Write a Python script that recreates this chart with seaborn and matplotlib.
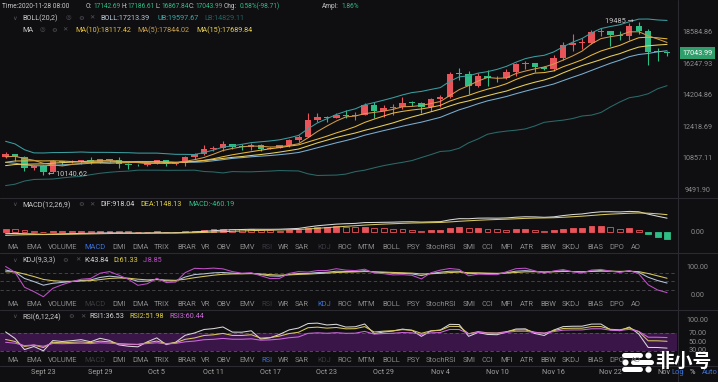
import numpy as np
import pandas as pd
import matplotlib
matplotlib.use("Agg")
import matplotlib.pyplot as plt
import matplotlib.transforms as mtransforms
import seaborn as sns

# daily candles, 2020-09-19 .. 2020-11-28 (last one still open at 08:00)
opens = [10938, 11080, 10920, 10418, 10530, 10241, 10736, 10686, 10729, 10775,
         10700, 10840, 10776, 10620, 10570, 10550, 10670, 10790, 10600, 10668,
         10925, 11050, 11297, 11376, 11545, 11428, 11426, 11503, 11320, 11365,
         11495, 11750, 11910, 12810, 12990, 12930, 13110, 13030, 13070, 13650,
         13280, 13455, 13560, 13800, 13760, 13550, 14030, 14150, 15590, 15580,
         14830, 15480, 15330, 15310, 15700, 16280, 16320, 16070, 15960, 16720,
         17660, 17800, 17820, 18680, 18720, 18420, 18370, 19160, 18720, 17150,
         17142.69]
highs = [11179, 11090, 10990, 10575, 10545, 10795, 10760, 10780, 10800, 10950,
         10860, 10850, 10950, 10670, 10600, 10700, 10800, 10800, 10680, 10960,
         11100, 11490, 11440, 11725, 11560, 11550, 11620, 11540, 11420, 11500,
         11820, 12030, 13220, 13200, 13030, 13170, 13350, 13250, 13790, 13860,
         13650, 13690, 14100, 13900, 13820, 14070, 14250, 15750, 15970, 15770,
         15660, 15840, 15480, 15950, 16340, 16480, 16330, 16140, 16880, 17860,
         18480, 18150, 18800, 18970, 18750, 18770, 19420, 19485, 18915, 17450,
         17186.61]
lows = [10890, 10760, 10296, 10353, 10140.62, 10200, 10560, 10640, 10600, 10630,
        10650, 10680, 10430, 10370, 10500, 10520, 10630, 10520, 10560, 10530,
        10830, 11030, 11220, 11200, 11300, 11280, 11250, 11220, 11300, 11350,
        11410, 11680, 11890, 12680, 12720, 12900, 12900, 12780, 13060, 12900,
        12990, 13100, 13430, 13620, 13200, 13290, 13530, 14090, 15190, 14340,
        14720, 14800, 15070, 15280, 15440, 15950, 15710, 15870, 15800, 16560,
        17220, 17350, 17760, 18350, 17610, 18000, 18030, 18500, 16190, 16500,
        16867.84]
closes = [11080, 10920, 10418, 10530, 10241, 10736, 10686, 10729, 10775, 10700,
          10840, 10776, 10620, 10570, 10550, 10670, 10790, 10600, 10668, 10925,
          11050, 11297, 11376, 11545, 11428, 11426, 11503, 11320, 11365, 11495,
          11750, 11910, 12810, 12990, 12930, 13110, 13030, 13070, 13650, 13280,
          13455, 13560, 13800, 13760, 13550, 14030, 14150, 15590, 15580, 14830,
          15480, 15330, 15310, 15700, 16280, 16320, 16070, 15960, 16720, 17660,
          17800, 17820, 18680, 18720, 18420, 18370, 19160, 18720, 17150, 17140,
          17043.99]
# closes before the visible window (Aug 1 .. Sept 18), only to warm up the indicators
pre_closes = [11800, 11070, 11230, 11190, 11740, 11770, 11600, 11760, 11680, 11880,
              11410, 11580, 11780, 11770, 11860, 11910, 12300, 11960, 11750, 11870,
              11530, 11680, 11650, 11760, 11330, 11460, 11320, 11530, 11470, 11710,
              11650, 11920, 11390, 10170, 10470, 10170, 10250, 10370, 10130, 10230,
              10345, 10390, 10440, 10330, 10680, 10790, 10950, 10940, 10938]

date_ticks = [4, 10, 16, 22, 28, 34, 40, 46, 52, 58, 64]
date_labels = ["Sept 23", "Sept 29", "Oct 5", "Oct 11", "Oct 17", "Oct 23",
               "Oct 29", "Nov 4", "Nov 10", "Nov 16", "Nov 22"]
price_ticks = [18584.86, 16247.93, 14204.86, 12418.69, 10857.11, 9491.90]

tab_names = ["MA", "EMA", "VOLUME", "MACD", "DMI", "DMA", "TRIX", "BRAR", "VR", "OBV",
             "EMV", "RSI", "WR", "SAR", "KDJ", "ROC", "MTM", "BOLL", "PSY", "StochRSI",
             "SMI", "CCI", "MFI", "ATR", "BBW", "SKDJ", "BIAS", "DPO", "AO"]
tab_x = [7, 26, 48, 84, 112, 132, 154, 177, 201, 217, 239, 261, 278, 295, 317, 337,
         357, 382, 406, 426, 463, 482, 500, 520, 540, 562, 587, 609, 631]

# ---- indicators ----
n0 = len(pre_closes)
c_all = pd.Series(pre_closes + closes, dtype=float)
h_all = pd.Series(pre_closes + highs, dtype=float)
l_all = pd.Series(pre_closes + lows, dtype=float)

def vis(s):
    return s.iloc[n0:].to_numpy()

ma5 = vis(c_all.rolling(5).mean())
ma10 = vis(c_all.rolling(10).mean())
ma15 = vis(c_all.rolling(15).mean())
mid = c_all.rolling(20).mean()
sd = c_all.rolling(20).std(ddof=0)
boll, ub, lb = vis(mid), vis(mid + 2 * sd), vis(mid - 2 * sd)

dif_s = c_all.ewm(span=12, adjust=False).mean() - c_all.ewm(span=26, adjust=False).mean()
dea_s = dif_s.ewm(span=9, adjust=False).mean()
dif, dea = vis(dif_s), vis(dea_s)
hist = 2 * (dif - dea)
hist_prev = vis((2 * (dif_s - dea_s)).shift(1))

llv = l_all.rolling(9, min_periods=1).min()
hhv = h_all.rolling(9, min_periods=1).max()
rsv = ((c_all - llv) / (hhv - llv) * 100).fillna(50)
k_s = rsv.ewm(alpha=1 / 3, adjust=False).mean()
d_s = k_s.ewm(alpha=1 / 3, adjust=False).mean()
kk, dd = vis(k_s), vis(d_s)
jj = 3 * kk - 2 * dd

diff = c_all.diff().fillna(0)
def rsi(n):
    up = diff.clip(lower=0).ewm(alpha=1 / n, adjust=False).mean()
    ab = diff.abs().ewm(alpha=1 / n, adjust=False).mean()
    return vis(up / ab * 100)
rsi1, rsi2, rsi3 = rsi(6), rsi(12), rsi(24)

# ---- style ----
bg = '#0f0f12'
sep = '#2a2a30'
RED = '#e8545a'
GREEN = '#2ebd85'
GRAY = '#8c8c8c'
sns.set_theme(style='dark', rc={'axes.facecolor': bg, 'figure.facecolor': bg})
plt.rcParams['font.family'] = ['Roboto', 'DejaVu Sans', 'Noto Sans CJK SC']

W, H = 718, 382
fig = plt.figure(figsize=(W / 100, H / 100), dpi=100)

def box(x0, y0, x1, y1):
    return [x0 / W, 1 - y1 / H, (x1 - x0) / W, (y1 - y0) / H]

def put(x, y, s, color, size=5.2, **kw):
    fig.text(x / W, 1 - y / H, s, color=color, fontsize=size, va='center', **kw)

idx = np.arange(len(closes))
xlim = (-0.59, 71.05)

def clean(ax):
    ax.set_facecolor(bg)
    for sp in ax.spines.values():
        sp.set_visible(False)
    ax.set_xticks([])
    ax.set_yticks([])
    ax.set_xlim(*xlim)
    ax.set_xlabel('')
    ax.set_ylabel('')

def right_labels(ax, vals, labels):
    tr = mtransforms.blended_transform_factory(fig.transFigure, ax.transData)
    for v, s in zip(vals, labels):
        ax.text(697.5 / W, v, s, transform=tr, ha='center', va='center',
                color=GRAY, fontsize=5.2)

# ---- main price pane ----
ax = fig.add_axes(box(0, 0, 677, 197))
ax.set_yscale('log')
o, h, l, c = map(np.array, (opens, highs, lows, closes))
col = np.where(c >= o, RED, GREEN)
ax.vlines(idx, l, h, colors=col, lw=0.8)
bottom = np.minimum(o, c)
height = np.maximum(np.abs(c - o), bottom * 0.003)
ax.bar(idx, height, bottom=bottom, width=0.68, color=col, linewidth=0)
for vals, cl in [(ub, '#3a9ea0'), (lb, '#2a6a68'), (boll, '#7aaed0'),
                 (ma15, '#e6cf5c'), (ma10, '#e8b83c'), (ma5, '#d09a48')]:
    sns.lineplot(x=idx, y=vals, ax=ax, color=cl, lw=0.75, legend=False)
clean(ax)
ax.set_ylim(9212, 21396)
ax.set_yscale('log')
ax.minorticks_off()
ax.set_yticks([])
right_labels(ax, price_ticks, [f"{v:.2f}" for v in price_ticks])
tr = mtransforms.blended_transform_factory(fig.transFigure, ax.transData)
ax.text(697.5 / W, closes[-1], f"{closes[-1]:.2f}", transform=tr, ha='center',
        va='center', color='white', fontsize=5.2,
        bbox=dict(boxstyle='square,pad=0.35', fc='#2f9e6a', ec='none'))
lo_i = int(np.argmin(lows))
hi_i = int(np.argmax(highs))
ax.text(lo_i + 0.5, lows[lo_i], f"\u2190 {lows[lo_i]:.2f}", color='#c8c8c8',
        fontsize=5.3, va='center', ha='left')
ax.text(hi_i - 0.5, highs[hi_i], f"{highs[hi_i]:.0f} \u2192", color='#c8c8c8',
        fontsize=5.3, va='center', ha='right')

# ---- MACD pane ----
axm = fig.add_axes(box(0, 198, 677, 242))
for i, v in enumerate(hist):
    pv = hist_prev[i]
    if v >= 0:
        cl, solid = RED, v >= pv
    else:
        cl, solid = GREEN, v <= pv
    axm.bar(i, v, width=0.62, color=cl if solid else bg, edgecolor=cl, linewidth=0.6)
sns.lineplot(x=idx, y=dif, ax=axm, color='#d8d8d8', lw=0.75, legend=False)
sns.lineplot(x=idx, y=dea, ax=axm, color='#d8c860', lw=0.75, legend=False)
clean(axm)
axm.set_ylim(-660, 2250)
right_labels(axm, [0], ["0.00"])

# ---- KDJ pane ----
axk = fig.add_axes(box(0, 254, 677, 300))
for lv in (80, 50, 20):
    axk.axhline(lv, color='#4a4a50', lw=0.6, ls=(0, (4, 3)))
sns.lineplot(x=idx, y=kk, ax=axk, color='#b8c4dc', lw=0.75, legend=False)
sns.lineplot(x=idx, y=dd, ax=axk, color='#d8c860', lw=0.75, legend=False)
sns.lineplot(x=idx, y=jj, ax=axk, color='#c050c8', lw=0.75, legend=False)
clean(axk)
axk.set_ylim(-17.9, 150)
right_labels(axk, [100, 0], ["100.00", "0.00"])

# ---- RSI pane ----
axr = fig.add_axes(box(0, 310, 677, 356))
axr.axhspan(30, 70, color='#3a1548', lw=0)
for lv in (70, 30):
    axr.axhline(lv, color='#6a4a78', lw=0.6, ls=(0, (4, 3)))
sns.lineplot(x=idx, y=rsi1, ax=axr, color='#d8d8d8', lw=0.75, legend=False)
sns.lineplot(x=idx, y=rsi2, ax=axr, color='#d8c860', lw=0.75, legend=False)
sns.lineplot(x=idx, y=rsi3, ax=axr, color='#d068e0', lw=0.75, legend=False)
clean(axr)
axr.set_ylim(18.7, 122.6)
right_labels(axr, [100, 70, 50, 30], ["100.00", "70.00", "50.00", "30.00"])

# dates
trd = mtransforms.blended_transform_factory(axr.transData, fig.transFigure)
for t, s in zip(date_ticks, date_labels):
    axr.text(t, 1 - 373 / H, s, transform=trd, ha='center', va='center',
             color='#a0a0a0', fontsize=5.2)
axr.text(69.7, 1 - 373 / H, "Nov", transform=trd, ha='center', va='center',
         color='#a0a0a0', fontsize=5.2)

# separators
for y in (197.5, 253, 309.5, 366):
    fig.add_artist(plt.Line2D([0, 1], [1 - y / H] * 2, color=sep, lw=0.8))
fig.add_artist(plt.Line2D([677.5 / W] * 2, [0, 1], color=sep, lw=0.8))

# ---- header texts ----
hdr = '#c8c8c8'
dim = '#55555c'
for x, s, cl in [(2, "Time:2020-11-28 08:00", hdr), (86, "O:", hdr), (93, "17142.69", GREEN),
                 (121, "H:", hdr), (127, "17186.61", GREEN), (156, "L:", hdr),
                 (161, "16867.84", GREEN), (189, "C:", hdr), (195, "17043.99", GREEN),
                 (224, "Chg:", hdr), (240, "0.58%(-98.71)", GREEN), (322, "Ampl:", hdr),
                 (341, "1.86%", GREEN)]:
    put(x, 6, s, cl, size=4.7)

def icons(y, items):
    for x, s in items:
        put(x, y, s, dim, size=4.6)

EYE, GEAR, CROSS = "\u25ce", "\u2699", "\u2715"

put(12, 18, "\u2228", dim, size=4.6)
put(22, 18, "BOLL(20,2)", hdr)
icons(18, [(66, EYE), (78, GEAR), (89, CROSS)])
put(100, 18, "BOLL:17213.39", '#b8c8d8')
put(157, 18, "UB:19597.67", '#3aa8a8')
put(204, 18, "LB:14829.11", '#23605e')
put(22, 30, "MA", hdr)
icons(30, [(40, EYE), (51, GEAR), (62, CROSS)])
put(75, 30, "MA(10):18117.42", '#e8c040')
put(137, 30, "MA(5):17844.02", '#c8a050')
put(196, 30, "MA(15):17689.84", '#e8d050')

put(12, 205, "\u2228", dim, size=4.6)
put(22, 205, "MACD(12,26,9)", hdr)
icons(205, [(78, GEAR), (89, CROSS)])
put(100, 205, "DIF:918.04", '#d8d8d8')
put(140, 205, "DEA:1148.13", '#e0d040')
put(188, 205, "MACD:-460.19", GREEN)

put(12, 260, "\u2228", dim, size=4.6)
put(22, 260, "KDJ(9,3,3)", hdr)
icons(260, [(62, GEAR), (75, CROSS)])
put(84, 260, "K:43.84", '#d8d8d8')
put(113, 260, "D:61.33", '#e0d040')
put(143, 260, "J:8.85", '#c050c8')

put(12, 317, "\u2228", dim, size=4.6)
put(22, 317, "RSI(6,12,24)", hdr)
icons(317, [(68, GEAR), (80, CROSS)])
put(89, 317, "RSI1:36.53", '#d8d8d8')
put(129, 317, "RSI2:51.98", '#e0d040')
put(169, 317, "RSI3:60.44", '#d068e0')

# tab bars
for y, active, dimmed in [(247, "MACD", ("RSI", "KDJ")), (304, "KDJ", ("MACD", "RSI")),
                          (361, "RSI", ("MACD", "KDJ"))]:
    for x, s in zip(tab_x, tab_names):
        cl = '#3b72d8' if s == active else ('#3a3a40' if s in dimmed else '#8a8a8a')
        put(x, y, s, cl, size=5.4)

# bottom right
put(671, 373, "Log", '#3b72d8', size=5.4)
put(690, 373, "%", '#c8c8c8', size=5.4)
put(702, 373, "Auto", '#3b72d8', size=5.4)

# watermark
put(655, 362, "\u975e\u5c0f\u53f7", 'white', size=13.5, weight='bold')
for (x0, x1), y in [((624, 640), 355), ((633, 651), 362), ((624, 640), 369)]:
    fig.add_artist(plt.Line2D([x0 / W, x1 / W], [1 - y / H] * 2, color='white',
                              lw=3.6, solid_capstyle='round'))
for x, y in [(648, 355), (625, 362), (648, 369)]:
    fig.add_artist(plt.Line2D([x / W], [1 - y / H], marker='o', ms=3.4,
                              color='white', lw=0))

fig.savefig('out.png', dpi=100, facecolor=bg)
